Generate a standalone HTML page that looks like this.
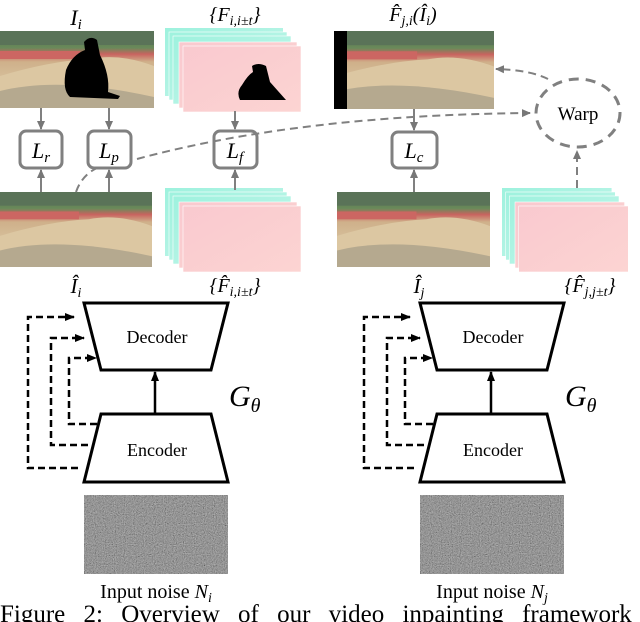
<!DOCTYPE html>
<html><head><meta charset="utf-8"><style>
html,body{margin:0;padding:0;background:#fff;width:640px;height:622px;overflow:hidden}
svg{display:block}
text{font-family:"Liberation Serif",serif}
</style></head><body>
<svg width="640" height="622" viewBox="0 0 640 622" xmlns="http://www.w3.org/2000/svg">
<defs>
<linearGradient id="sand" x1="0" y1="0" x2="0" y2="1">
<stop offset="0" stop-color="#4f6a4a"/><stop offset="0.22" stop-color="#6a8a5a"/>
<stop offset="0.3" stop-color="#c9635f"/><stop offset="0.4" stop-color="#cfb08a"/>
<stop offset="0.7" stop-color="#d8c4a0"/><stop offset="1" stop-color="#a69a82"/>
</linearGradient>
<symbol id="photo" viewBox="0 0 154 77" preserveAspectRatio="none">
<rect width="154" height="77" fill="url(#sand)"/>
<rect x="0" y="0" width="154" height="14" fill="#5a7358"/>
<rect x="0" y="20" width="80" height="8" fill="#cc6662"/>
<path d="M0 45 Q50 30 90 28 Q120 22 154 35 L154 77 L0 77Z" fill="#dcc7a2"/>
<path d="M0 60 Q60 45 154 66 L154 77 L0 77Z" fill="#b5a98f"/>
</symbol>
<filter id="nz" x="0" y="0" width="1" height="1"><feTurbulence type="fractalNoise" baseFrequency="0.9" numOctaves="2" seed="3"/><feColorMatrix type="matrix" values="0.33 0.33 0.33 0 0 0.33 0.33 0.33 0 0 0.33 0.33 0.33 0 0 0 0 0 0 1"/><feComponentTransfer><feFuncR type="linear" slope="1.5" intercept="-0.32"/><feFuncG type="linear" slope="1.5" intercept="-0.32"/><feFuncB type="linear" slope="1.5" intercept="-0.32"/></feComponentTransfer></filter>
<linearGradient id="cy" x1="0" y1="0" x2="1" y2="1"><stop offset="0" stop-color="#9ef2de"/><stop offset="1" stop-color="#c6f5ea"/></linearGradient>
<linearGradient id="pk" x1="0" y1="0" x2="1" y2="1"><stop offset="0" stop-color="#f9c9cf"/><stop offset="1" stop-color="#fcd4d2"/></linearGradient>
<symbol id="stack" viewBox="0 0 140 84" preserveAspectRatio="none">
<rect x="0" y="0" width="118" height="68" fill="url(#cy)"/>
<rect x="4" y="4" width="118" height="68" fill="url(#cy)" stroke="#fff" stroke-width="0.6"/>
<rect x="8" y="8" width="118" height="68" fill="url(#cy)" stroke="#fff" stroke-width="0.6"/>
<rect x="14" y="14" width="118" height="66" fill="url(#pk)" stroke="#fff" stroke-width="0.6"/>
<rect x="18" y="18" width="118" height="66" fill="url(#pk)" stroke="#fff" stroke-width="0.6"/>
</symbol>
<marker id="ga" markerUnits="userSpaceOnUse" markerWidth="9" markerHeight="9" refX="8" refY="4.5" orient="auto"><path d="M0 0.5L9 4.5L0 8.5Z" fill="#777"/></marker>
<marker id="ba" markerUnits="userSpaceOnUse" markerWidth="10" markerHeight="10" refX="9" refY="5" orient="auto"><path d="M0 1L10 5L0 9Z" fill="#000"/></marker>
</defs>

<text x="76" y="25" font-size="22" font-style="italic" text-anchor="middle">I<tspan font-size="15" dy="4">i</tspan></text>
<text x="235" y="21" font-size="20" font-style="italic" text-anchor="middle">{F<tspan font-size="14" dy="4">i,i±t</tspan><tspan dy="-4">}</tspan></text>
<text x="413" y="21" font-size="20" font-style="italic" text-anchor="middle">F̂<tspan font-size="14" dy="4">j,i</tspan><tspan dy="-4">(Î</tspan><tspan font-size="14" dy="4">i</tspan><tspan dy="-4">)</tspan></text>

<use href="#photo" x="0" y="31" width="154" height="77"/>
<path d="M66 70 Q72 55 85 50 L84 42 Q90 35 97 40 L100 55 Q110 75 108 92 L120 96 L118 99 L70 97 Q62 90 66 70Z" fill="#000"/>
<use href="#stack" x="165" y="28" width="140" height="84"/>
<path d="M242 85 Q248 75 253 72 L252 66 Q258 62 266 66 L270 82 L286 100 L240 100 Q236 92 242 85Z" fill="#000"/>
<use href="#photo" x="334" y="31" width="160" height="78"/>
<rect x="334" y="31" width="13" height="78" fill="#000"/>

<use href="#photo" x="0" y="192" width="152" height="75"/>
<use href="#stack" x="165" y="188" width="140" height="84"/>
<use href="#photo" x="337" y="192" width="153" height="75"/>
<use href="#stack" x="502" y="188" width="130" height="84"/>

<g fill="#fff" stroke="#808080" stroke-width="3">
<rect x="20" y="131" width="42" height="37" rx="6"/>
<rect x="88" y="131" width="43" height="37" rx="6"/>
<rect x="214" y="131" width="43" height="37" rx="6"/>
<rect x="392" y="132" width="45" height="36" rx="6"/>
</g>
<g font-size="22" font-style="italic" text-anchor="middle">
<text x="41" y="158">L<tspan font-size="15" dy="4">r</tspan></text>
<text x="109" y="158">L<tspan font-size="15" dy="4">p</tspan></text>
<text x="235" y="158">L<tspan font-size="15" dy="4">f</tspan></text>
<text x="414" y="158">L<tspan font-size="15" dy="4">c</tspan></text>
</g>

<g stroke="#808080" stroke-width="2" marker-end="url(#ga)">
<line x1="41" y1="108" x2="41" y2="129"/>
<line x1="109" y1="108" x2="109" y2="129"/>
<line x1="235" y1="111" x2="235" y2="129"/>
<line x1="41" y1="192" x2="41" y2="170"/>
<line x1="109" y1="192" x2="109" y2="170"/>
<line x1="235" y1="190" x2="235" y2="170"/>
<line x1="414" y1="109" x2="414" y2="130"/>
<line x1="414" y1="192" x2="414" y2="170"/>
</g>

<g fill="none" stroke="#808080" stroke-width="2" stroke-dasharray="8,5">
<path d="M137 159 Q300 115 530 113" marker-end="url(#ga)"/>
<path d="M76 192 Q82 175 97 168"/>
<path d="M548 79 Q530 70 496 69" marker-end="url(#ga)"/>
<line x1="577" y1="188" x2="577" y2="151" marker-end="url(#ga)"/>
<ellipse cx="578" cy="113" rx="42" ry="34" stroke-width="3" stroke-dasharray="10,7"/>
</g>
<text x="578" y="120" font-size="19" text-anchor="middle">Warp</text>

<text x="76" y="293" font-size="21" font-style="italic" text-anchor="middle">Î<tspan font-size="14" dy="4">i</tspan></text>
<text x="235" y="292" font-size="20" font-style="italic" text-anchor="middle">{F̂<tspan font-size="14" dy="4">i,i±t</tspan><tspan dy="-4">}</tspan></text>
<text x="419" y="293" font-size="21" font-style="italic" text-anchor="middle">Î<tspan font-size="14" dy="4">j</tspan></text>
<text x="590" y="292" font-size="20" font-style="italic" text-anchor="middle">{F̂<tspan font-size="14" dy="4">j,j±t</tspan><tspan dy="-4">}</tspan></text>

<g id="gen">
<path d="M84 303 L228 303 L211 370 L101 370Z" fill="#fff" stroke="#000" stroke-width="3"/>
<path d="M101 414 L211 414 L228 482 L84 482Z" fill="#fff" stroke="#000" stroke-width="3"/>
<line x1="155" y1="414" x2="155" y2="372" stroke="#000" stroke-width="2.5" marker-end="url(#ba)"/>
<g fill="none" stroke="#000" stroke-width="2.5" stroke-dasharray="7,4">
<path d="M78 468 L28 468 L28 317 L74 317" marker-end="url(#ba)"/>
<path d="M88 445 L51 445 L51 338 L84 338" marker-end="url(#ba)"/>
<path d="M97 424 L69 424 L69 358 L96 358" marker-end="url(#ba)"/>
</g>
<text x="157" y="343" font-size="18" text-anchor="middle">Decoder</text>
<text x="157" y="456" font-size="18" text-anchor="middle">Encoder</text>
<text x="229" y="406" font-size="30" font-style="italic">G<tspan font-size="20" dy="6">θ</tspan></text>
<rect x="84" y="495" width="144" height="79" fill="#777" filter="url(#nz)"/>
<rect x="84" y="495" width="144" height="79" fill="#666" opacity="0.35"/>
</g>
<use href="#gen" x="336" y="0"/>

<text x="156" y="598" font-size="20" text-anchor="middle">Input noise <tspan font-style="italic">N</tspan><tspan font-style="italic" font-size="14" dy="4">i</tspan></text>
<text x="492" y="598" font-size="20" text-anchor="middle">Input noise <tspan font-style="italic">N</tspan><tspan font-style="italic" font-size="14" dy="4">j</tspan></text>
<text x="0" y="622" font-size="25" word-spacing="12">Figure 2:  Overview of our video inpainting framework</text>
</svg>
</body></html>
